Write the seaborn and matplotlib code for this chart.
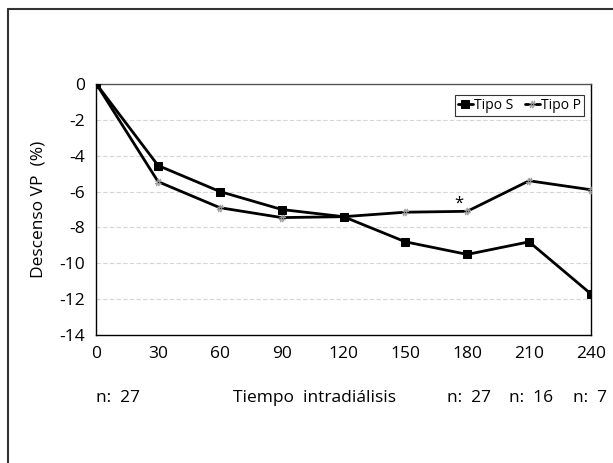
import matplotlib
matplotlib.use("Agg")
import matplotlib.pyplot as plt
import seaborn as sns
import pandas as pd
from matplotlib.lines import Line2D

sns.set_style("white")
plt.rcParams['font.family'] = ['Open Sans', 'DejaVu Sans']
plt.rcParams['axes.unicode_minus'] = False
plt.rcParams['text.color'] = 'black'
plt.rcParams['axes.labelcolor'] = 'black'

tiempo = [0, 30, 60, 90, 120, 150, 180, 210, 240]
tipo_s = [0, -4.55, -6.0, -7.0, -7.4, -8.8, -9.5, -8.8, -11.7]
tipo_p = [0, -5.45, -6.9, -7.45, -7.4, -7.15, -7.1, -5.4, -5.9]
yticks = [0, -2, -4, -6, -8, -10, -12, -14]
n_labels = [(10.7, "n:  27"), (180.8, "n:  27"), (211, "n:  16"), (239.5, "n:  7")]

df_s = pd.DataFrame({"t": tiempo, "v": tipo_s})
df_p = pd.DataFrame({"t": tiempo, "v": tipo_p})

fig = plt.figure(figsize=(6.13, 4.63), dpi=100)
ax = fig.add_axes([0.157, 0.276, 0.807, 0.543])

sns.lineplot(data=df_p, x="t", y="v", ax=ax, color="black", lw=2,
             marker="$\\#$", markersize=5, markeredgewidth=0.4,
             markerfacecolor="#999999", markeredgecolor="#999999", label="Tipo P", zorder=3)
sns.lineplot(data=df_s, x="t", y="v", ax=ax, color="black", lw=2,
             marker="s", markersize=6, markeredgecolor="black", label="Tipo S", zorder=4)

ax.set_xlim(0, 240)
ax.set_ylim(-14, 0)
ax.set_xticks(tiempo)
ax.set_yticks(yticks)
ax.tick_params(axis="both", length=0, labelsize=12.5, colors="black")
ax.tick_params(axis="x", pad=8)
ax.tick_params(axis="y", pad=8)
ax.set_xlabel("")
ax.set_ylabel("Descenso VP  (%)", fontsize=12.5, labelpad=9)

for y in yticks[1:-1]:
    ax.axhline(y, color="#d6d6d6", lw=0.8, ls=(0, (4, 2)), zorder=1)

for s in ["left", "bottom", "right"]:
    ax.spines[s].set_color("black")
    ax.spines[s].set_linewidth(1.0)
ax.spines["top"].set_color("#555555")
ax.spines["top"].set_linewidth(1.0)

ax.text(176, -6.7, "*", ha="center", va="center", fontsize=12)

handles, labels = ax.get_legend_handles_labels()
order = [labels.index("Tipo S"), labels.index("Tipo P")]
leg = ax.legend([handles[i] for i in order], [labels[i] for i in order],
                loc="upper right", bbox_to_anchor=(0.986, 0.955), ncol=2,
                fontsize=10, frameon=True, fancybox=False, edgecolor="black",
                handlelength=1.1, handletextpad=0.1, columnspacing=0.8,
                borderpad=0.2, borderaxespad=0.0)
leg.get_frame().set_linewidth(0.8)

trans = ax.get_xaxis_transform()
for xv, txt in n_labels:
    ax.text(xv, -0.25, txt, transform=trans, ha="center", va="center", fontsize=12.5)
ax.text(105.7, -0.25, "Tiempo  intradiálisis", transform=trans, ha="center",
        va="center", fontsize=12.5)

fig.add_artist(Line2D([0.013, 0.013], [0.0, 0.981], transform=fig.transFigure,
                      color="#333333", lw=1.5))
fig.add_artist(Line2D([0.013, 1.0], [0.981, 0.981], transform=fig.transFigure,
                      color="#333333", lw=1.5))

fig.savefig("out.png", dpi=100)
